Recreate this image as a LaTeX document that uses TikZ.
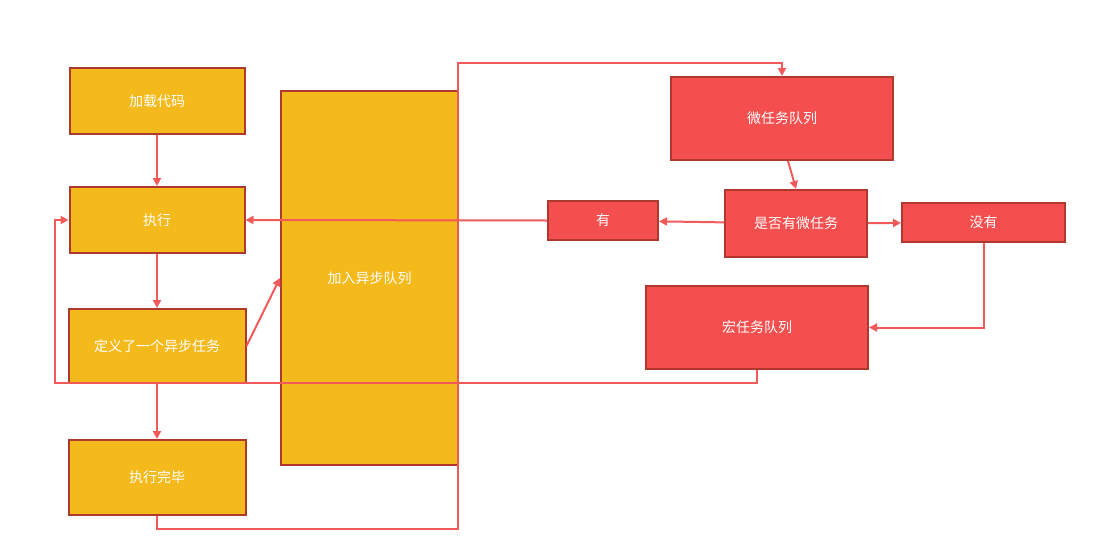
\documentclass[tikz,border=0pt]{standalone}
\usepackage{fontspec}
\newfontfamily\cjk{Noto Sans CJK SC}
\usepackage{xcolor}
\usetikzlibrary{arrows.meta, positioning}
\definecolor{boxorange}{HTML}{F4B91A}
\definecolor{boxred}{HTML}{F54E4E}
\definecolor{edgered}{HTML}{B0392F}
\definecolor{linered}{HTML}{F25A5A}

\begin{document}
\begin{tikzpicture}[x=1pt, y=-1pt,
    orangebox/.style={draw=edgered, fill=boxorange, line width=2pt, text=white,
        font=\cjk\fontsize{14}{16}\selectfont, inner sep=0pt},
    redbox/.style={draw=edgered, fill=boxred, line width=2pt, text=white,
        font=\cjk\fontsize{14}{16}\selectfont, inner sep=0pt},
    flow/.style={draw=linered, line width=2pt, -{Triangle[length=8pt,width=8pt]}}]
    \useasboundingbox (0,0) rectangle (1093,549);

    % left column
    \node[orangebox, minimum width=175, minimum height=66] (load) at (157,101) {加载代码};
    \node[orangebox, minimum width=175, minimum height=66] (exec) at (157,220) {执行};
    \node[orangebox, minimum width=177, minimum height=74] (define) at (157,346) {定义了一个异步任务};
    \node[orangebox, minimum width=177, minimum height=75] (done) at (157,477.5) {执行完毕};
    \node[orangebox, minimum width=177, minimum height=374] (queue) at (369.5,278) {加入异步队列};

    % right side
    \node[redbox, minimum width=222, minimum height=83] (micro) at (782,118.5) {微任务队列};
    \node[redbox, minimum width=142, minimum height=67] (check) at (796,223.5) {是否有微任务};
    \node[redbox, minimum width=110, minimum height=39] (yes) at (603,220.5) {有};
    \node[redbox, minimum width=163, minimum height=39] (no) at (983.5,222.5) {没有};
    \node[redbox, minimum width=222, minimum height=83] (macro) at (757,327.5) {宏任务队列};

    \coordinate (topturn) at (458,63);
    \coordinate (backturn) at (55,383);

    \draw[flow] (load) -- (exec);
    \draw[flow] (exec) -- (define);
    \draw[flow] (define) -- (done);
    \draw[flow] (define.east) -- (queue.west);
    \draw[flow] (done.south) -- ++(0,13) -| (topturn) -| (micro.north);
    \draw[flow] ([xshift=6]micro.south) -- (check.north);
    \draw[flow] (check) -- (yes);
    \draw[flow] (check) -- (no);
    \draw[flow] (yes.west) -- (exec.east);
    \draw[flow] (no.south) |- (macro.east);
    \draw[flow] (macro.south) |- (backturn) |- (exec.west);
\end{tikzpicture}
\end{document}
